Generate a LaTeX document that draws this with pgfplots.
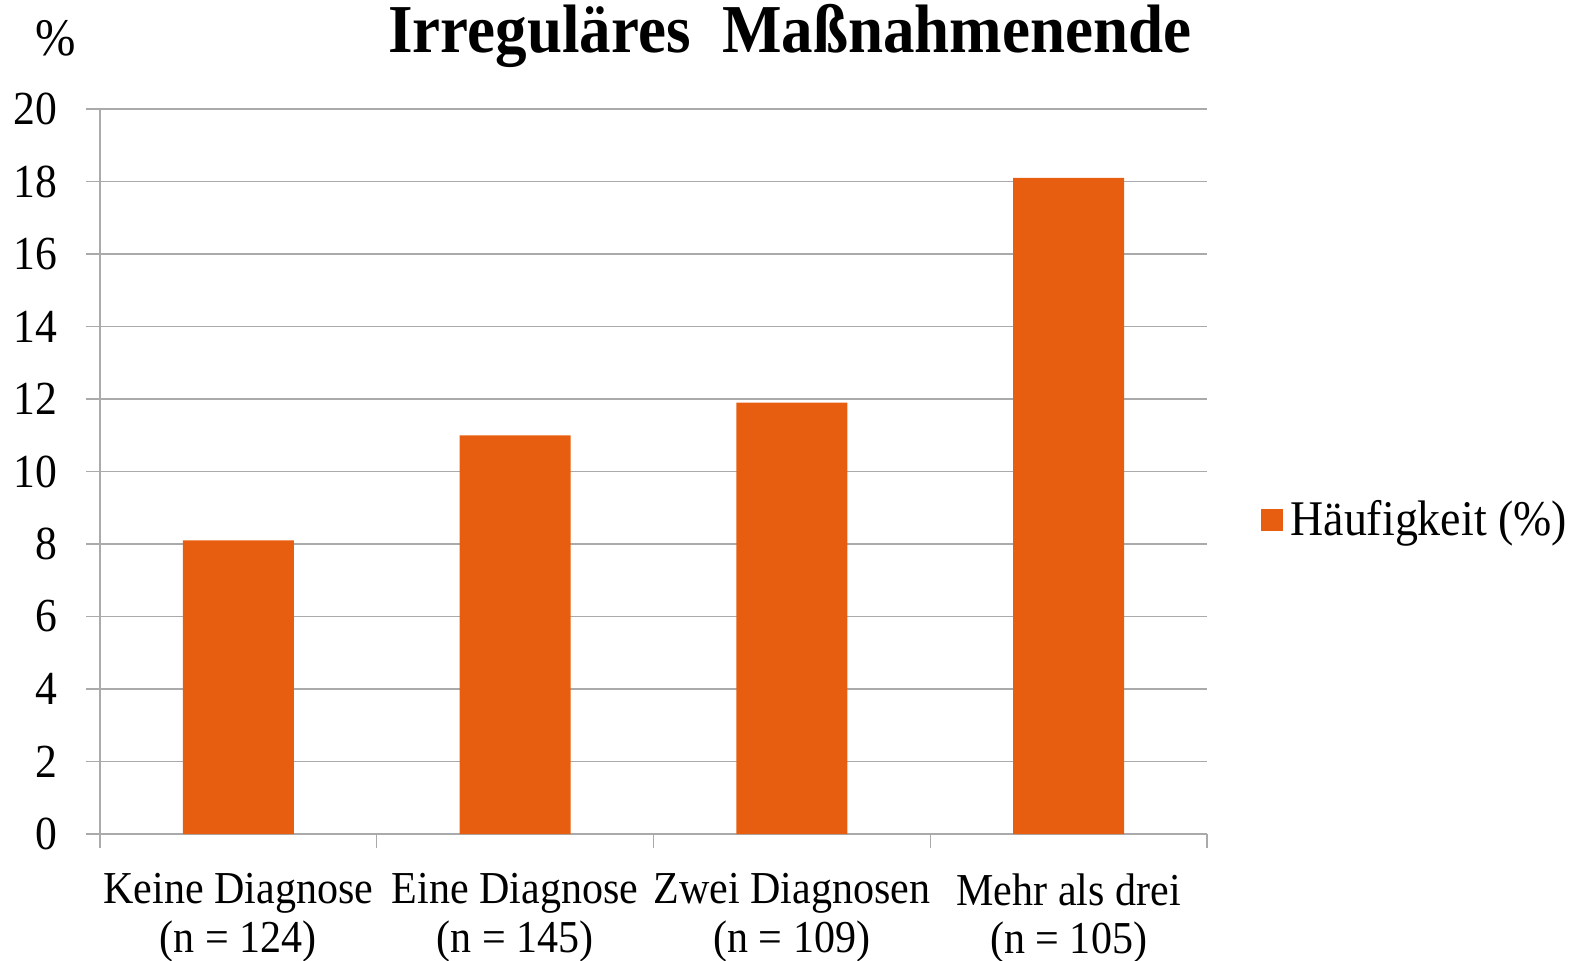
\documentclass[border=0pt]{standalone}
\usepackage{pgfplots}
\pgfplotsset{compat=1.18}
\usepackage{fontspec}
\setmainfont[FakeStretch=0.92]{Liberation Serif}
\definecolor{barorange}{RGB}{232,94,16}
\definecolor{gridgray}{RGB}{170,170,170}
\begin{document}
\begin{tikzpicture}[x=1cm,y=1cm]
\path[use as bounding box] (0,0) rectangle (15.71,9.6);
\begin{axis}[
  at={(1.0cm,1.26cm)}, anchor=south west,
  scale only axis,
  width=11.07cm, height=7.25cm,
  ybar, bar width=1.11cm,
  xmin=-0.5, xmax=3.5,
  ymin=0, ymax=20,
  ytick={0,2,...,20},
  xtick={0,1,2,3},
  xticklabels={{Keine Diagnose\\(n = 124)},{Eine Diagnose\\(n = 145)},{Zwei Diagnosen\\(n = 109)},{Mehr als drei\vphantom{g}\\(n = 105)}},
  xticklabel style={align=center, font=\fontsize{13}{13.8}\selectfont, yshift=-1.3mm},
  yticklabel style={font=\fontsize{13.5}{16}\selectfont, xshift=-1.6mm},
  /pgf/number format/assume math mode=true,
  major x tick style={draw=none},
  minor xtick={-0.5,0.5,1.5,2.5,3.5},
  minor x tick style={draw=gridgray, thin},
  minor tick length=1.4mm,
  major tick length=1.4mm,
  y tick style={draw=gridgray, thin},
  tick align=outside,
  axis x line*=bottom, axis y line*=left,
  axis line style={draw=gridgray, thin, -},
  ymajorgrids, grid style={draw=gridgray, thin},
  legend style={at={(1.039,0.433)}, anchor=west, draw=none, fill=none,
    font=\fontsize{14.2}{16}\selectfont, legend cell align=left},
  legend image code/.code={\fill[barorange] (0cm,-0.11cm) rectangle (0.22cm,0.11cm);},
  clip=false,
]
\addplot[fill=barorange, draw=none] coordinates {(0,8.1) (1,11.0) (2,11.9) (3,18.1)};
\addlegendentry{Häufigkeit (\%)}
\end{axis}
\node[font=\bfseries\fontsize{19.5}{22}\selectfont] at (7.9,9.24) {Irreguläres\ \ Maßnahmenende};
\node[font=\fontsize{15}{18}\selectfont] at (0.56,9.22) {\%};
\end{tikzpicture}
\end{document}
